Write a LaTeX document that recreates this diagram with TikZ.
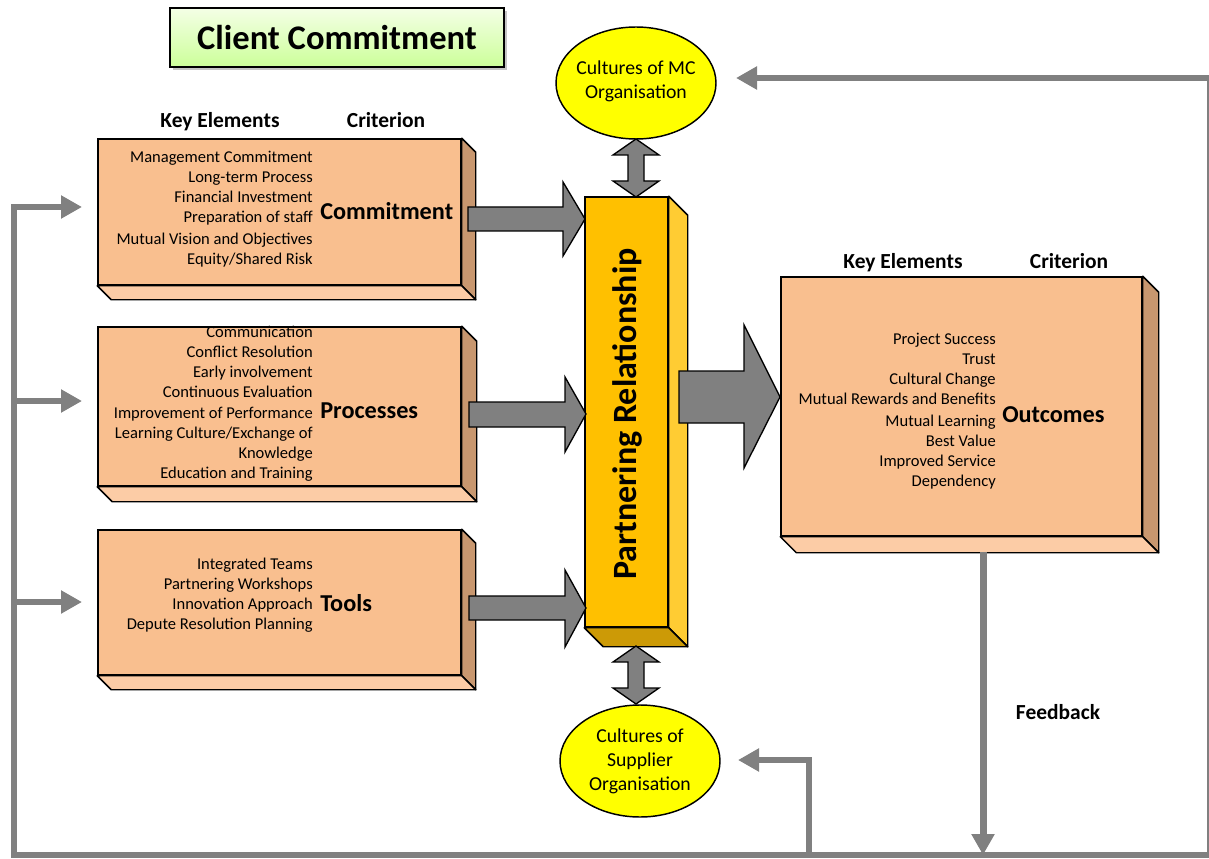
\documentclass[tikz,border=0pt]{standalone}
\usepackage{fontspec}
\setmainfont{Carlito}
\usetikzlibrary{calc,fit,shapes.geometric,arrows.meta,shadows}
\definecolor{front}{HTML}{F9BF8F}
\definecolor{side}{HTML}{C8976F}
\definecolor{bott}{HTML}{FCCCA6}
\definecolor{colf}{HTML}{FFC000}
\definecolor{cols}{HTML}{FFCC33}
\definecolor{colb}{HTML}{CC9A06}
\definecolor{gr}{HTML}{808080}
\definecolor{ell}{HTML}{FFFF00}
\definecolor{tgtop}{HTML}{F4FFE6}
\definecolor{tgbot}{HTML}{CCFF99}
\newcommand\mydepth[4]{%
  \path[draw=black, line width=1.1pt, line join=round, fill=#3] (#1.north east) -- ++(#2,#2) -- ($(#1.south east)+(#2,#2)$) -- (#1.south east) -- cycle;
  \path[draw=black, line width=1.1pt, line join=round, fill=#4] (#1.south west) -- ++(#2,#2) -- ($(#1.south east)+(#2,#2)$) -- (#1.south east) -- cycle;}
\begin{document}
\begin{tikzpicture}[x=0.75pt,y=-0.75pt,
  face/.style={draw=black, line width=1.1pt, fill=front, inner sep=0pt},
  blockarrow/.style={draw=black, line width=1pt, fill=gr, line join=miter},
  gline/.style={draw=gr, line width=4.5pt},
  tip/.style={-{Triangle[length=15.75pt,width=16.5pt]}},
  item/.style={font=\fontsize{12.4}{15}\selectfont, align=right, inner sep=0pt, anchor=east},
  crit/.style={font=\fontsize{18.2}{20}\selectfont\bfseries, inner sep=0pt, anchor=west},
  head/.style={font=\fontsize{16.1}{18}\selectfont\bfseries, inner sep=0pt},
  ellnode/.style={ellipse, draw=black, line width=1.1pt, fill=ell, inner sep=0pt, minimum width=120pt, minimum height=84pt, align=center, font=\fontsize{14.8}{18}\selectfont}
]
\useasboundingbox (0,0) rectangle (1209,859);
\fill[white] (0,0) rectangle (1209,859);

% title
\node[fit={(170,8)(504,67)}, inner sep=0pt, draw=black, line width=0.8pt,
      top color=tgtop, bottom color=tgbot,
      drop shadow={shadow xshift=2pt, shadow yshift=-2pt, fill=black!45}] (title) {};
\node[inner sep=0pt, font=\fontsize{25.9}{30}\selectfont\bfseries] (titletext) at (337,38) {Client Commitment};

% headings
\node[head, anchor=base] (ke1) at (220,128) {Key Elements};
\node[head, anchor=base] (cr1) at (386,128) {Criterion};
\node[head, anchor=base] (ke2) at (903,268) {Key Elements};
\node[head, anchor=base] (cr2) at (1069,268) {Criterion};

% boxes
\node[face, fit={(98,139)(461,285)}] (cb) {};
\mydepth{cb}{14}{side}{bott}
\node[face, fit={(98,327)(461,486)}] (pb) {};
\mydepth{pb}{15}{side}{bott}
\node[face, fit={(98,530)(461,675)}] (tb) {};
\mydepth{tb}{14}{side}{bott}
\node[face, fit={(781,277)(1142,536)}] (ob) {};
\mydepth{ob}{16}{side}{bott}
\node[face, fill=colf, fit={(585,197)(668,627)}] (pr) {};
\mydepth{pr}{19}{cols}{colb}

% ellipses
\node[ellnode] (mc) at (636,83) {};
\node[inner sep=0pt, align=center, font=\fontsize{14.8}{18}\selectfont] (mct) at (636,81) {Cultures of MC\\Organisation};
\node[ellnode] (sup) at (640,761) {Cultures of\\Supplier\\Organisation};

% block arrows
\path[blockarrow] (468,207) -- (563,207) -- (563,182) -- (585,219) -- (563,256) -- (563,231) -- (468,231) -- cycle;
\path[blockarrow] (469,402) -- (565,402) -- (565,377) -- (586,414) -- (565,452) -- (565,427) -- (469,427) -- cycle;
\path[blockarrow] (469,596) -- (565,596) -- (565,570) -- (586,608) -- (565,647) -- (565,620) -- (469,620) -- cycle;
\path[blockarrow] (679,371) -- (744,371) -- (744,325) -- (780,397) -- (744,468) -- (744,423) -- (679,423) -- cycle;
% double arrows
\path[blockarrow] (636,139) -- (659,155) -- (644,155) -- (644,181) -- (659,181) -- (636,197) -- (613,181) -- (628,181) -- (628,155) -- (613,155) -- cycle;
\path[blockarrow] (636,646) -- (659,662) -- (644,662) -- (644,688) -- (659,688) -- (636,704) -- (613,688) -- (628,688) -- (628,662) -- (613,662) -- cycle;

% texts
\node[item] (ci) at (313,209) {Management Commitment\\Long-term Process\\Financial Investment\\Preparation of staff\\[1.5pt]Mutual Vision and Objectives\\Equity/Shared Risk};
\node[crit] (cl) at (320,211) {Commitment};
\node[item] (pi) at (313,404) {Communication\\Conflict Resolution\\Early involvement\\Continuous Evaluation\\[0.8pt]Improvement of Performance\\Learning Culture/Exchange of\\Knowledge\\Education and Training};
\node[crit] (pl) at (320,411) {Processes};
\node[item] (ti) at (313,595) {Integrated Teams\\Partnering Workshops\\Innovation Approach\\Depute Resolution Planning};
\node[crit] (tl) at (320,603) {Tools};
\node[item] (oi) at (996,411) {Project Success\\Trust\\Cultural Change\\Mutual Rewards and Benefits\\[1.5pt]Mutual Learning\\Best Value\\Improved Service\\Dependency};
\node[crit] (ol) at (1002,415) {Outcomes};
\node[rotate=90, inner sep=0pt, font=\fontsize{25.5}{30}\selectfont\bfseries] (prt) at (627,414) {Partnering Relationship};
\node[head] (fb) at (1058,712) {Feedback};

% feedback lines
\coordinate (mctip) at (736,78);
\coordinate (suptip) at (738,760);
\coordinate (ctip) at (82,207);
\coordinate (ptip) at (82,401);
\coordinate (ttip) at (82,602);
\coordinate (fbstart) at (983,552);
\draw[gline, {Triangle[length=15.75pt,width=16.5pt]}-{Triangle[length=15.75pt,width=16.5pt]}] (mctip) -- (1209.5,78) -- (1209.5,855) -- (14,855) -- (14,207) -- (ctip);
\draw[gline, tip] (14,401) -- (ptip);
\draw[gline, tip] (14,602) -- (ttip);
\draw[gline, tip] (809,855) -- (809,760) -- (suptip);
\draw[gline, line width=5.25pt, tip] (fbstart) -- (983,855);
\end{tikzpicture}
\end{document}
